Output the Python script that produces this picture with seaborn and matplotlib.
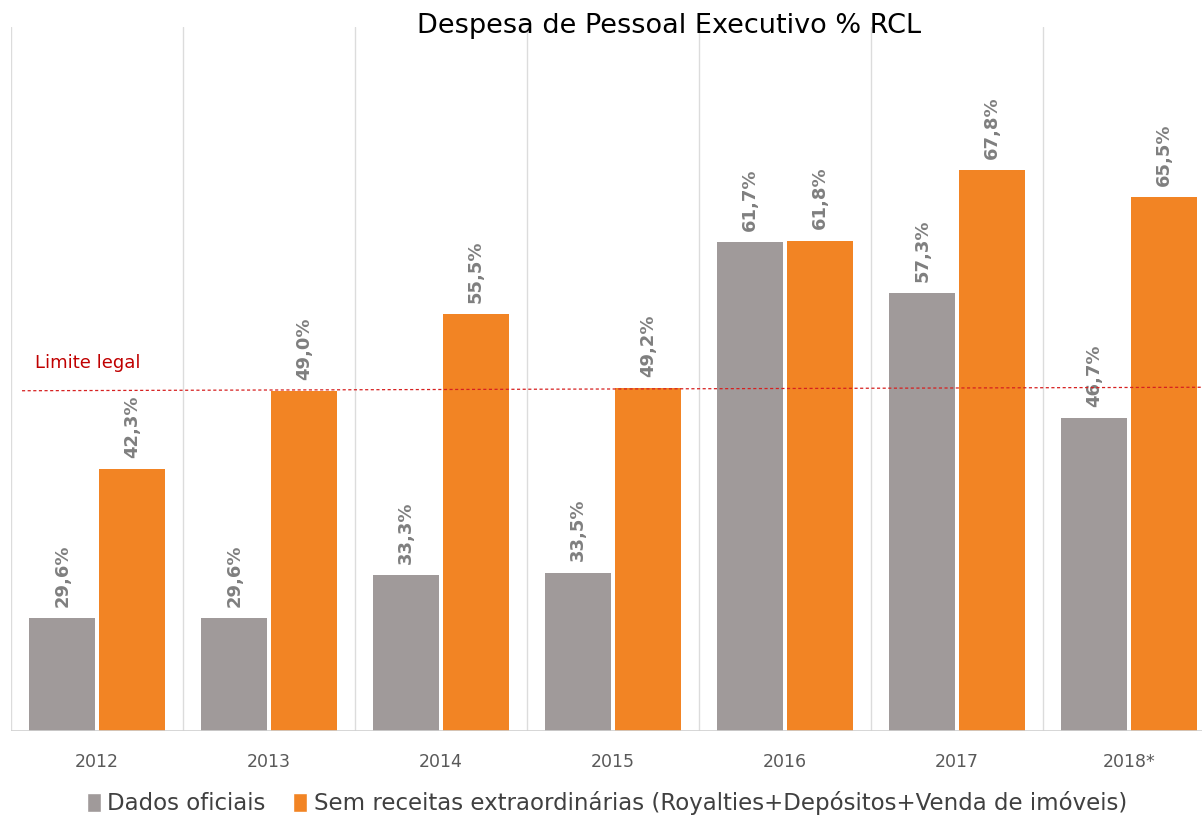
import numpy as np
import pandas as pd
import matplotlib
matplotlib.use("Agg")
import matplotlib.pyplot as plt
import seaborn as sns
from matplotlib.patches import Patch

# data
years = ['2012', '2013', '2014', '2015', '2016', '2017', '2018*']
dados_oficiais = [29.6, 29.6, 33.3, 33.5, 61.7, 57.3, 46.7]
sem_receitas = [42.3, 49.0, 55.5, 49.2, 61.8, 67.8, 65.5]
series_names = ['Dados oficiais',
                'Sem receitas extraordinárias (Royalties+Depósitos+Venda de imóveis)']
limite_legal = 49.0

GRAY = '#a09a9a'
ORANGE = '#f28424'
LABEL = '#7f7f7f'

df = pd.DataFrame({
    'ano': years * 2,
    'valor': dados_oficiais + sem_receitas,
    'serie': [series_names[0]] * len(years) + [series_names[1]] * len(years),
})

sns.set_style('white')
plt.rcParams['font.family'] = ['DejaVu Sans']

fig = plt.figure(figsize=(12.02, 8.17), dpi=100)
ax = fig.add_axes([11 / 1202, 86 / 817, 1204 / 1202, 704 / 817])

sns.barplot(data=df, x='ano', y='valor', hue='serie', order=years,
            hue_order=series_names, palette=[GRAY, ORANGE],
            width=0.81, gap=0.06, legend=False, ax=ax, saturation=1,
            linewidth=0)

for cont in ax.containers:
    labels = [f"{b.get_height():.1f}%".replace('.', ',') for b in cont]
    ax.bar_label(cont, labels=labels, rotation=90, padding=8,
                 color=LABEL, fontsize=13, fontweight='bold')

ax.set_ylim(20, 80)
ax.set_xlim(-0.5, len(years) - 0.5)
for i in range(len(years) + 1):
    ax.axvline(i - 0.5, color='#dcdcdc', lw=1, zorder=0)
ax.axhline(20, color='#d0d0d0', lw=1.2, zorder=3)

# limite legal
ax.plot([-0.436, len(years) - 0.5], [limite_legal, limite_legal + 0.3],
        color='#d62020', lw=0.9, ls=(0, (2.5, 2)), zorder=4)
ax.text(-0.36, 51.4, 'Limite legal', color='#c00000', fontsize=13,
        va='center', ha='left')

for s in ax.spines.values():
    s.set_visible(False)
ax.set_yticks([])
ax.set_xlabel('')
ax.set_ylabel('')
ax.tick_params(axis='x', length=0, pad=16, labelsize=12.5, labelcolor='#595959')

fig.text(0.557, 0.968, 'Despesa de Pessoal Executivo % RCL', ha='center',
         va='center', fontsize=19.5, color='black')

handles = [Patch(facecolor=GRAY, label=series_names[0]),
           Patch(facecolor=ORANGE, label=series_names[1])]
fig.legend(handles=handles, loc='center', bbox_to_anchor=(0.505, 0.017),
           ncol=2, frameon=False, fontsize=16.5, handlelength=0.6,
           handleheight=0.9, handletextpad=0.3, columnspacing=1.2,
           labelcolor='#404040')

fig.savefig('out.png', dpi=100)
